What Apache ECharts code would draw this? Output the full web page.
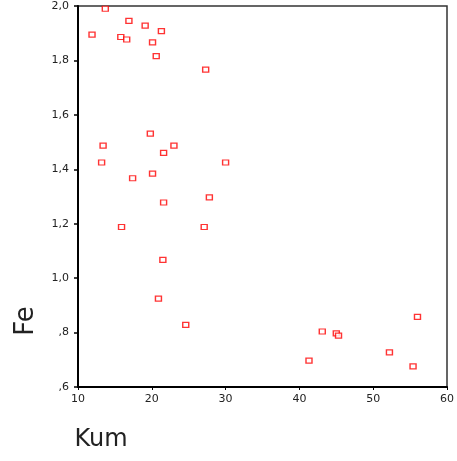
<!DOCTYPE html>
<html>
<head>
<meta charset="utf-8">
<script src="https://cdn.jsdelivr.net/npm/echarts@6/dist/echarts.min.js"></script>
<style>
  html, body { margin: 0; padding: 0; background: #fff; }
  #main { width: 457px; height: 461px; }
</style>
</head>
<body>
<div id="main"></div>
<script>
// Kum (x) ve Fe (y) degerleri
var kum = [11.9, 13.7, 16.9, 15.8, 16.6, 19.1, 21.3, 20.1, 20.6, 27.3,
  19.8, 13.4, 23.0, 21.6, 13.2, 30.0, 20.1, 17.4,
  27.8, 21.6, 15.9, 27.1, 21.5, 20.9, 24.6,
  56.0, 43.1, 45.0, 45.3, 52.2, 41.3, 55.4]
var fe = [1.895, 1.99, 1.945, 1.886, 1.877, 1.928, 1.908, 1.866, 1.816, 1.766,
  1.531, 1.487, 1.487, 1.46, 1.425, 1.425, 1.384, 1.367,
  1.297, 1.278, 1.188, 1.188, 1.067, 0.925, 0.828,
  0.858, 0.804, 0.797, 0.789, 0.727, 0.697, 0.676]
var xTicks = [10, 20, 30, 40, 50, 60]
var yTicks = [0.6, 0.8, 1.0, 1.2, 1.4, 1.6, 1.8, 2.0]

var points = kum.map(function (k, i) { return [k, fe[i]] })

function feLabel(v) {
  // 0,8 -> ,8 gibi
  var s = v.toFixed(1).replace('.', ',')
  if (s.charAt(0) === '0') s = s.slice(1)
  return s
}

var myChart = echarts.init(document.getElementById('main'))
var option = {
  animation: false,
  backgroundColor: '#fff',
  textStyle: { fontFamily: '"DejaVu Sans", sans-serif' },
  grid: {
    left: 78, top: 6, right: 10, bottom: 74,
    show: true, borderColor: '#333', borderWidth: 1.5
  },
  xAxis: {
    type: 'value',
    min: xTicks[0],
    max: xTicks[xTicks.length - 1],
    interval: 10,
    name: 'Kum',
    nameLocation: 'middle',
    nameGap: 41,
    nameTextStyle: { fontSize: 24, color: '#222', padding: [0, 323, 0, 0] },
    axisLine: { lineStyle: { color: '#000', width: 2 } },
    axisTick: { show: true, length: 3, lineStyle: { color: '#000' } },
    axisLabel: { fontSize: 11, color: '#222', margin: 7 },
    splitLine: { show: false }
  },
  yAxis: {
    type: 'value',
    min: yTicks[0],
    max: yTicks[yTicks.length - 1],
    interval: 0.2,
    name: 'Fe',
    nameLocation: 'middle',
    nameRotate: 90,
    nameGap: 39,
    nameTextStyle: { fontSize: 26, color: '#222', padding: [0, 249, 0, 0] },
    axisLine: { lineStyle: { color: '#000', width: 2 } },
    axisTick: { show: true, length: 4, lineStyle: { color: '#000', width: 1.5 } },
    axisLabel: { fontSize: 11, color: '#222', margin: 9, formatter: feLabel },
    splitLine: { show: false }
  },
  series: [
    {
      type: 'scatter',
      symbol: 'rect',
      symbolSize: [6, 5],
      itemStyle: { color: '#fff', borderColor: '#ff0000', borderWidth: 1.3 },
      data: points
    }
  ]
}
myChart.setOption(option)
</script>
</body>
</html>
